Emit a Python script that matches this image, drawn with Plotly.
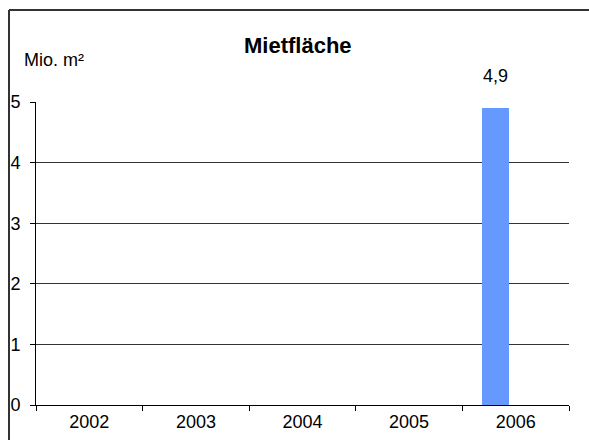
import plotly.graph_objects as go

years = ["2002", "2003", "2004", "2005", "2006"]
flaeche = [None, None, None, None, 4.9]
y_ticks = [0, 1, 2, 3, 4, 5]

W, H = 589, 440
ML, MT = 36, 102
PW, PH = 533, 303
MR, MB = W - ML - PW, H - MT - PH

bar_offset, bar_width = -0.316, 0.256
font = dict(family="Liberation Sans, Arial, sans-serif", size=18, color="black")

fig = go.Figure()
fig.add_trace(go.Bar(
    x=years, y=flaeche,
    marker=dict(color="#6699FF", line=dict(width=0)),
    offset=bar_offset, width=bar_width,
    showlegend=False,
))

# value labels above bars
for i, v in enumerate(flaeche):
    if v is None:
        continue
    fig.add_annotation(
        x=i + bar_offset + bar_width / 2, y=v, xref="x", yref="y",
        text=f"{v:.1f}".replace(".", ","), showarrow=False,
        yanchor="bottom", yshift=20, font=font,
    )

fig.add_annotation(
    x=(22 - ML) / PW, y=1 + (MT - 60) / PH, xref="paper", yref="paper",
    text="Mio. m²", showarrow=False, xanchor="left", yanchor="middle", font=font,
)
fig.add_annotation(
    x=(298 - ML) / PW, y=1 + (MT - 46) / PH, xref="paper", yref="paper",
    text="<b>Mietfläche</b>", showarrow=False, xanchor="center", yanchor="middle",
    font=dict(family="Liberation Sans, Arial, sans-serif", size=22, color="black"),
)

# outer chart frame: only the top and left edges are inside the picture
fx0, fy1 = (9 - ML) / PW, 1 + (MT - 10) / PH
fig.add_shape(type="line", xref="paper", yref="paper",
              x0=fx0, x1=(W - ML) / PW, y0=fy1, y1=fy1,
              line=dict(color="#333333", width=2))
fig.add_shape(type="line", xref="paper", yref="paper",
              x0=fx0, x1=fx0, y0=-MB / PH, y1=fy1,
              line=dict(color="#333333", width=2))

fig.update_xaxes(
    type="category", range=[-0.5, 4.5],
    showline=True, linecolor="black", linewidth=1,
    ticks="outside", tickson="boundaries", ticklen=5, tickcolor="black",
    showgrid=False, tickfont=font, automargin=False,
)
fig.update_yaxes(
    range=[0, 5], tickvals=y_ticks,
    showline=True, linecolor="black", linewidth=1,
    ticks="outside", ticklen=5, tickcolor="black", ticklabelstandoff=6,
    showgrid=True, gridcolor="#333333", gridwidth=1,
    zeroline=False, tickfont=font, automargin=False,
)
fig.update_layout(
    width=W, height=H,
    margin=dict(l=ML, r=MR, t=MT, b=MB),
    paper_bgcolor="white", plot_bgcolor="white",
    bargap=0,
)
fig.write_html(
    "out.html",
    config={"displayModeBar": False},
    post_script="document.body.style.margin='0';document.body.style.overflow='hidden';",
)
